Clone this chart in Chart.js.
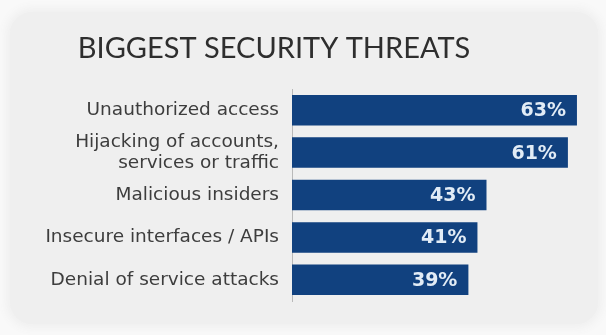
<!DOCTYPE html>
<html>
<head>
<meta charset="utf-8">
<script src="https://cdn.jsdelivr.net/npm/chart.js@4/dist/chart.umd.min.js"></script>
<style>
  html, body { margin: 0; padding: 0; background: #f9f9f9; width: 606px; height: 335px; overflow: hidden; }
  #card { position: absolute; left: 10px; top: 12px; width: 588px; height: 312px; background: #efefef; border-radius: 22px; box-shadow: 0 0 10px 4px #efefef; }
  #wrap { position: absolute; left: 0; top: 0; width: 606px; height: 335px; }
</style>
</head>
<body>
<div id="card"></div>
<div id="wrap"><canvas id="c" width="606" height="335"></canvas></div>
<script>
const TITLE = "BIGGEST SECURITY THREATS";
const categories = [
  "Unauthorized access",
  ["Hijacking of accounts,", "services or traffic"],
  "Malicious insiders",
  "Insecure interfaces / APIs",
  "Denial of service attacks"
];
const values = [63, 61, 43, 41, 39];
const valueLabels = ["63%", "61%", "43%", "41%", "39%"];

const titlePlugin = {
  id: 'fixedTitle',
  afterDraw(chart) {
    const ctx = chart.ctx;
    ctx.save();
    ctx.font = '400 29px Lato';
    ctx.fillStyle = '#2e2e2e';
    ctx.textAlign = 'center';
    ctx.textBaseline = 'alphabetic';
    ctx.fillText(TITLE, 274, 58);
    ctx.restore();
  }
};

const barLabels = {
  id: 'barLabels',
  afterDatasetsDraw(chart) {
    const ctx = chart.ctx;
    const meta = chart.getDatasetMeta(0);
    ctx.save();
    ctx.font = 'bold 19px "DejaVu Sans"';
    ctx.fillStyle = '#e2ecf6';
    ctx.textAlign = 'right';
    ctx.textBaseline = 'middle';
    meta.data.forEach((bar, i) => {
      ctx.fillText(valueLabels[i], bar.x - 11, bar.y + 1);
    });
    ctx.restore();
  }
};

new Chart(document.getElementById('c'), {
  type: 'bar',
  data: {
    labels: categories,
    datasets: [{
      data: values,
      backgroundColor: '#11417f',
      borderWidth: 0,
      barPercentage: 0.72,
      categoryPercentage: 1.0
    }]
  },
  options: {
    indexAxis: 'y',
    responsive: false,
    animation: false,
    layout: { padding: { left: 0, right: 20, top: 89, bottom: 34 } },
    plugins: { legend: { display: false }, tooltip: { enabled: false }, title: { display: false } },
    scales: {
      x: { display: false, min: 0, max: 65 },
      y: {
        afterFit(scale) { scale.width = 292; },
        grid: { display: false, drawTicks: false },
        border: { display: true, color: '#b9b9b9', width: 1 },
        ticks: { autoSkip: false, color: '#3d3d3d', font: { family: '"DejaVu Sans"', size: 18.5, lineHeight: 1.1 }, padding: 13, crossAlign: 'near' }
      }
    }
  },
  plugins: [barLabels, titlePlugin]
});
</script>
</body>
</html>
